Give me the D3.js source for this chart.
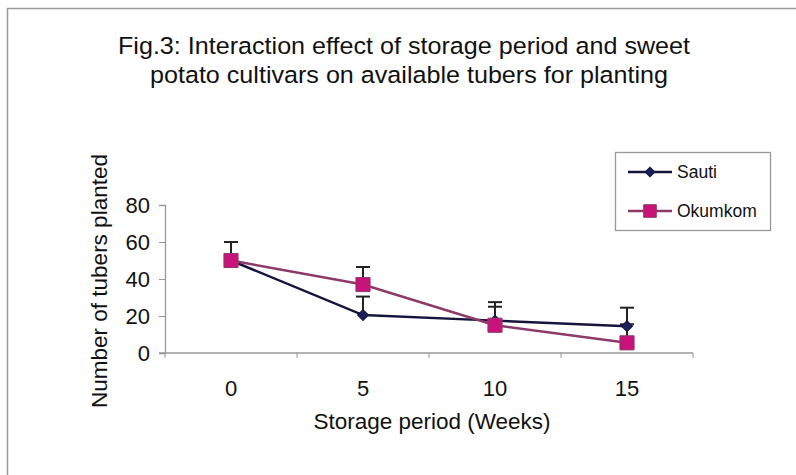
<!DOCTYPE html>
<html lang="en">
<head>
<meta charset="utf-8">
<title>Fig.3</title>
<script src="https://cdn.jsdelivr.net/npm/d3@7"></script>
<style>
  body { margin: 0; background: #fff; }
  text { font-family: "Liberation Sans", Arial, sans-serif; fill: #111; }
</style>
</head>
<body>
<script>
// data
var weeks = ["0", "5", "10", "15"];
var sauti = [50, 20.5, 17.5, 14.5];
var sautiErr = [10, 10, 10, 10];
var okumkom = [50, 37, 15, 5.5];
var okumkomErr = [10, 9.5, 10, 10];
var yTicks = [0, 20, 40, 60, 80];

var w = 796, h = 475;
var svg = d3.select("body").append("svg")
    .attr("width", w).attr("height", h);

// outer frame (top + left edges only visible)
svg.append("path")
    .attr("d", "M7.5," + h + "V8.5H" + w)
    .attr("fill", "none").attr("stroke", "#9a9a9a").attr("stroke-width", 1.5);

svg.append("text").attr("x", 404).attr("y", 54)
    .attr("text-anchor", "middle").style("font-size", "24.5px")
    .attr("textLength", 572).attr("lengthAdjust", "spacingAndGlyphs")
    .text("Fig.3: Interaction effect of storage period and sweet");
svg.append("text").attr("x", 409).attr("y", 83)
    .attr("text-anchor", "middle").style("font-size", "24.5px")
    .attr("textLength", 518).attr("lengthAdjust", "spacingAndGlyphs")
    .text("potato cultivars on available tubers for planting");

var mLeft = 165, mRight = 693, mTop = 205, mBottom = 353;

var x = d3.scaleBand().domain(weeks).range([mLeft, mRight]);
var y = d3.scaleLinear().domain([0, 80]).range([mBottom, mTop]);

// y axis
var yAx = svg.append("g").attr("transform", "translate(" + mLeft + ",0)")
    .call(d3.axisLeft(y).tickValues(yTicks).tickSize(6).tickPadding(9));
yAx.selectAll("text").style("font-size", "22px");
yAx.select(".domain").attr("stroke", "#999").attr("stroke-width", 1.3);
yAx.selectAll(".tick line").attr("stroke", "#999");

// x axis: ticks at category boundaries
var xAx = svg.append("g").attr("transform", "translate(0," + mBottom + ")");
xAx.append("line").attr("x1", mLeft - 6).attr("x2", mRight)
    .attr("stroke", "#999").attr("stroke-width", 1.3);
var bounds = weeks.map(function(d) { return x(d); }).concat([mRight]);
xAx.selectAll("line.tk").data(bounds).enter().append("line")
    .attr("class", "tk")
    .attr("x1", function(d) { return d; }).attr("x2", function(d) { return d; })
    .attr("y1", 0).attr("y2", 5).attr("stroke", "#999");
xAx.selectAll("text").data(weeks).enter().append("text")
    .attr("x", function(d) { return x(d) + x.bandwidth() / 2; })
    .attr("y", 43).attr("text-anchor", "middle").style("font-size", "22px")
    .text(function(d) { return d; });

svg.append("text").attr("x", 432).attr("y", 429)
    .attr("text-anchor", "middle").style("font-size", "22.5px")
    .text("Storage period (Weeks)");
svg.append("text")
    .attr("transform", "translate(107,281) rotate(-90)")
    .attr("text-anchor", "middle").style("font-size", "22.5px")
    .text("Number of tubers planted");

var cx = function(d, i) { return x(weeks[i]) + x.bandwidth() / 2; };
var line = d3.line().x(cx).y(function(d) { return y(d); });

// diamond = square turned 45 degrees
var series = [
  { name: "Sauti", vals: sauti, err: sautiErr, line: "#14143c", mark: "#1b1f5a", rot: 45, size: 60 },
  { name: "Okumkom", vals: okumkom, err: okumkomErr, line: "#8e3a68", mark: "#c8147a", rot: 0, size: 200 }
];

// error bars (upper only)
series.forEach(function(s) {
  var g = svg.append("g");
  s.vals.forEach(function(v, i) {
    var px = cx(v, i), y0 = y(v), y1 = y(v + s.err[i]);
    g.append("line").attr("x1", px).attr("x2", px).attr("y1", y0).attr("y2", y1)
        .attr("stroke", "#222").attr("stroke-width", 2);
    g.append("line").attr("x1", px - 7).attr("x2", px + 7).attr("y1", y1).attr("y2", y1)
        .attr("stroke", "#222").attr("stroke-width", 2);
  });
});

series.forEach(function(s) {
  svg.append("path").datum(s.vals).attr("d", line)
      .attr("fill", "none").attr("stroke", s.line).attr("stroke-width", 2.5);
  svg.selectAll(null).data(s.vals).enter().append("path")
      .attr("d", d3.symbol().type(d3.symbolSquare).size(s.size))
      .attr("transform", function(d, i) { return "translate(" + cx(d, i) + "," + y(d) + ") rotate(" + s.rot + ")"; })
      .attr("fill", s.mark).attr("stroke", s.line).attr("stroke-width", 1);
});

// legend
var lg = svg.append("g").attr("transform", "translate(615,152)");
lg.append("rect").attr("x", 0.5).attr("y", 0.5).attr("width", 155).attr("height", 78)
    .attr("fill", "#fff").attr("stroke", "#999").attr("stroke-width", 1.3);
series.forEach(function(s, i) {
  var yy = 20 + i * 39;
  lg.append("line").attr("x1", 13).attr("x2", 57).attr("y1", yy).attr("y2", yy)
      .attr("stroke", s.line).attr("stroke-width", 2.5);
  lg.append("path").attr("d", d3.symbol().type(d3.symbolSquare).size(s.size * 0.8))
      .attr("transform", "translate(35," + yy + ") rotate(" + s.rot + ")")
      .attr("fill", s.mark).attr("stroke", s.line);
  lg.append("text").attr("x", 62).attr("y", yy + 6).style("font-size", "17.5px").text(s.name);
});
</script>
</body>
</html>
